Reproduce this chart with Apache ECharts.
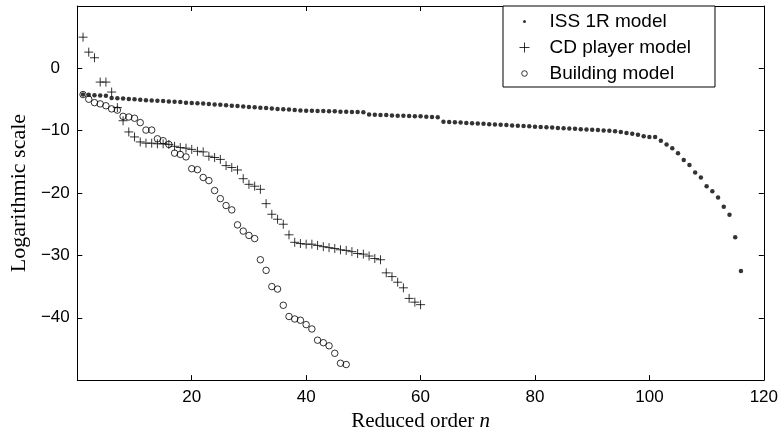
<!DOCTYPE html>
<html>
<head>
<meta charset="utf-8">
<script src="https://cdn.jsdelivr.net/npm/echarts@6/dist/echarts.min.js"></script>
<style>html,body{margin:0;padding:0;background:#fff;overflow:hidden}#c{width:781px;height:437px}</style>
</head>
<body>
<div id="c"></div>
<script>
// Series values indexed by reduced order n = 1, 2, 3, ...
const issValues = [
  -4.2,-4.25,-4.3,-4.35,-4.4,
  -4.75,-4.8,-4.85,-4.9,-4.95,
  -5.05,-5.1,-5.15,-5.2,-5.25,-5.3,-5.35,-5.4,-5.5,-5.55,
  -5.6,-5.65,-5.7,-5.8,-5.85,-5.9,-6.0,-6.05,-6.1,-6.2,
  -6.25,-6.3,-6.35,-6.45,-6.5,-6.55,-6.6,-6.7,-6.75,-6.8,
  -6.8,-6.85,-6.85,-6.9,-6.9,-6.95,-6.95,-7.0,-7.0,-7.05,
  -7.4,-7.45,-7.5,-7.5,-7.55,-7.6,-7.6,-7.65,-7.7,-7.7,-7.75,-7.8,-7.85,
  -8.55,-8.6,-8.65,-8.7,-8.75,-8.8,-8.85,-8.9,-8.95,-9.0,-9.05,-9.1,-9.15,-9.2,-9.25,-9.3,-9.35,
  -9.4,-9.45,-9.5,-9.55,-9.6,-9.65,-9.7,-9.75,-9.8,-9.85,-9.9,-9.95,-10.0,-10.1,-10.2,-10.35,-10.5,-10.65,
  -10.9,-11.0,-11.0,-11.6,-12.2,-12.8,-13.6,-14.7,-15.5,-16.7,-17.5,-18.9,-19.7,-20.7,-22.2,-23.5,-27.1,-32.5
];
const cdValues = [
  5.0,2.6,1.7,-2.2,-2.2,-3.8,-6.3,-8.4,-10.2,-11.0,
  -11.8,-12.0,-12.0,-12.1,-12.1,-12.2,-12.5,-12.7,-12.8,-13.0,
  -13.3,-13.4,-14.1,-14.3,-14.6,-15.6,-15.9,-16.3,-17.7,-18.6,
  -18.9,-19.4,-21.7,-23.4,-24.2,-25.0,-26.7,-27.9,-28.1,-28.2,
  -28.2,-28.4,-28.6,-28.75,-28.9,-29.1,-29.2,-29.4,-29.7,-29.8,
  -30.1,-30.5,-30.7,-32.8,-33.4,-34.3,-35.2,-36.9,-37.5,-37.9
];
const buildingValues = [
  -4.2,-4.95,-5.5,-5.7,-6.0,-6.5,-6.7,-7.7,-7.8,-8.0,
  -8.7,-9.9,-9.9,-11.3,-11.6,-12.2,-13.6,-13.8,-14.2,-16.1,
  -16.25,-17.5,-18.0,-19.6,-20.9,-22.0,-22.7,-25.1,-26.1,-26.8,
  -27.3,-30.7,-32.4,-35.0,-35.4,-38.0,-39.8,-40.2,-40.4,-41.1,
  -41.8,-43.6,-44.0,-44.5,-45.7,-47.3,-47.5
];
const seriesNames = ['ISS 1R model', 'CD player model', 'Building model'];
const xTicks = [20, 40, 60, 80, 100, 120];
const yTicks = [-40, -30, -20, -10, 0];

function toPoints(vals) { return vals.map((v, i) => [i + 1, v]); }
const minus = s => String(s).replace('-', '\u2212');

const plusPath = 'path://M0,5L10,5M5,0L5,10';
const dotIcon = 'path://M0,0M10,10M3.5,5A1.5,1.5,0,1,1,6.5,5A1.5,1.5,0,1,1,3.5,5Z';
const circIcon = 'path://M0,0M10,10M2.2,5A2.8,2.8,0,1,1,7.8,5A2.8,2.8,0,1,1,2.2,5Z';

const sansFont = 'Liberation Sans, Arial, sans-serif';
const serifFont = 'Liberation Serif, Times New Roman, serif';
const tickFont = { color: '#000', fontSize: 17, fontFamily: sansFont };
const axLine = { show: true, onZero: false, lineStyle: { color: '#000', width: 1 } };
const axTick = { show: true, inside: true, length: 5, lineStyle: { color: '#000', width: 1 } };

const chart = echarts.init(document.getElementById('c'), null, { renderer: 'canvas' });
chart.setOption({
  animation: false,
  backgroundColor: '#fff',
  grid: { left: 72, right: 15, top: 6, height: 385, containLabel: false },
  legend: {
    orient: 'vertical', left: 503, top: 6,
    padding: [6, 24, 4, 14],
    itemWidth: 40, itemHeight: 10, itemGap: 7,
    borderColor: '#000', borderWidth: 1, backgroundColor: '#fff',
    selectedMode: false,
    textStyle: { color: '#000', fontSize: 19, fontFamily: sansFont },
    data: [
      { name: seriesNames[0], icon: dotIcon, itemStyle: { color: '#000', borderWidth: 0 } },
      { name: seriesNames[1], icon: plusPath, itemStyle: { color: 'none', borderColor: '#000', borderWidth: 1 } },
      { name: seriesNames[2], icon: circIcon, itemStyle: { color: 'none', borderColor: '#000', borderWidth: 1 } }
    ]
  },
  xAxis: [{
    type: 'value', min: 0, max: 120, interval: 20, position: 'bottom',
    axisLine: axLine, axisTick: axTick, splitLine: { show: false },
    axisLabel: Object.assign({ margin: 9, formatter: v => xTicks.includes(v) ? String(v) : '' }, tickFont),
    name: '{a|Reduced order }{b|n}', nameLocation: 'middle', nameGap: 24,
    nameTextStyle: { rich: {
      a: { fontFamily: serifFont, fontSize: 21, color: '#000' },
      b: { fontFamily: serifFont, fontSize: 21, fontStyle: 'italic', color: '#000' }
    } }
  }, {
    type: 'value', min: 0, max: 120, interval: 20, position: 'top',
    axisLine: axLine, axisTick: axTick, splitLine: { show: false }, axisLabel: { show: false }
  }],
  yAxis: [{
    type: 'value', min: -50, max: 10, interval: 10, position: 'left',
    axisLine: axLine, axisTick: axTick, splitLine: { show: false },
    axisLabel: Object.assign({ margin: 22, align: 'center', formatter: v => yTicks.includes(v) ? minus(v) : '' }, tickFont),
    name: 'Logarithmic scale', nameLocation: 'middle', nameGap: 41,
    nameTextStyle: { fontFamily: serifFont, fontSize: 22, color: '#000' }
  }, {
    type: 'value', min: -50, max: 10, interval: 10, position: 'right',
    axisLine: axLine, axisTick: axTick, splitLine: { show: false }, axisLabel: { show: false }
  }],
  series: [{
    name: seriesNames[0], type: 'scatter', data: toPoints(issValues),
    symbol: 'circle', symbolSize: 4.5, itemStyle: { color: '#000' }, z: 3
  }, {
    name: seriesNames[1], type: 'scatter', data: toPoints(cdValues),
    symbol: plusPath, symbolSize: 9,
    itemStyle: { color: 'none', borderColor: '#000', borderWidth: 1 }, z: 2
  }, {
    name: seriesNames[2], type: 'scatter', data: toPoints(buildingValues),
    symbol: 'circle', symbolSize: 6.5,
    itemStyle: { color: 'rgba(0,0,0,0)', borderColor: '#000', borderWidth: 1 }, z: 2
  }]
});
</script>
</body>
</html>
